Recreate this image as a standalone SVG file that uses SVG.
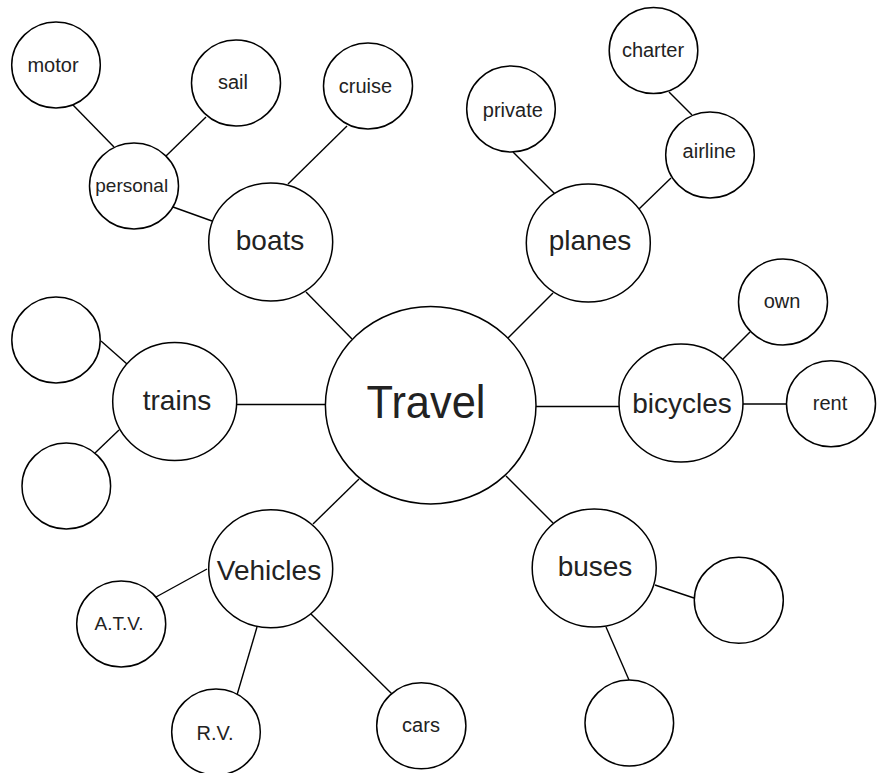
<svg xmlns="http://www.w3.org/2000/svg" width="878" height="773" viewBox="0 0 878 773">
<style>
.n ellipse{fill:#fff;stroke:#000;stroke-width:1.5}
#links line{stroke:#000;stroke-width:1.4}
text{font-family:"Liberation Sans",Arial,sans-serif;fill:#222;text-anchor:middle}
.s{font-size:20px}
.m{font-size:28px}
.l{font-size:47px}
</style>
<rect width="878" height="773" fill="#fff"/>
<g id="links">
<line x1="73" y1="105" x2="114" y2="147"/>
<line x1="206" y1="117" x2="166" y2="156"/>
<line x1="347" y1="126" x2="288" y2="184"/>
<line x1="173" y1="207" x2="212" y2="221"/>
<line x1="306" y1="292" x2="352" y2="339"/>
<line x1="669" y1="92" x2="692" y2="115"/>
<line x1="513" y1="152" x2="555" y2="194"/>
<line x1="671" y1="178" x2="639" y2="209"/>
<line x1="553" y1="293" x2="508" y2="338"/>
<line x1="101" y1="341" x2="127" y2="364"/>
<line x1="95" y1="453" x2="119" y2="430"/>
<line x1="237" y1="404.5" x2="326" y2="404.5"/>
<line x1="536" y1="406.5" x2="619" y2="406.5"/>
<line x1="743" y1="404" x2="787" y2="404"/>
<line x1="750" y1="332" x2="723" y2="359"/>
<line x1="359" y1="479" x2="313" y2="524"/>
<line x1="506" y1="476" x2="553" y2="523"/>
<line x1="207" y1="569" x2="156" y2="597"/>
<line x1="257" y1="627" x2="237" y2="695"/>
<line x1="311" y1="614" x2="392" y2="694"/>
<line x1="655" y1="585" x2="694" y2="598"/>
<line x1="606" y1="627" x2="629" y2="680"/>
</g>
<g id="travel" class="n"><ellipse cx="430.7" cy="405.3" rx="105.3" ry="98.7"/><text class="l" x="426" y="418" textLength="119" lengthAdjust="spacingAndGlyphs">Travel</text></g>
<g id="boats" class="n"><ellipse cx="270.7" cy="242" rx="62" ry="59"/><text class="m" x="270" y="250">boats</text></g>
<g id="planes" class="n"><ellipse cx="588.3" cy="243" rx="62" ry="59"/><text class="m" x="590" y="250">planes</text></g>
<g id="trains" class="n"><ellipse cx="174.7" cy="401.5" rx="62" ry="59"/><text class="m" x="177" y="410">trains</text></g>
<g id="bicycles" class="n"><ellipse cx="681" cy="403" rx="62" ry="59"/><text class="m" x="682" y="413">bicycles</text></g>
<g id="vehicles" class="n"><ellipse cx="270.7" cy="568.7" rx="62" ry="59"/><text class="m" x="269" y="580">Vehicles</text></g>
<g id="buses" class="n"><ellipse cx="594.2" cy="568" rx="62" ry="59"/><text class="m" x="595" y="576">buses</text></g>
<g id="motor" class="n"><ellipse cx="56" cy="65" rx="44.3" ry="43"/><text class="s" x="53" y="72">motor</text></g>
<g id="sail" class="n"><ellipse cx="236" cy="83" rx="44.5" ry="43"/><text class="s" x="233" y="89">sail</text></g>
<g id="cruise" class="n"><ellipse cx="368" cy="86" rx="44.5" ry="43"/><text class="s" x="365.5" y="93">cruise</text></g>
<g id="personal" class="n"><ellipse cx="134" cy="186" rx="44.5" ry="43"/><text class="s" x="131.7" y="192" style="font-size:19px">personal</text></g>
<g id="charter" class="n"><ellipse cx="653.5" cy="50.5" rx="44.3" ry="43"/><text class="s" x="653" y="57">charter</text></g>
<g id="private" class="n"><ellipse cx="511" cy="109" rx="44.3" ry="43"/><text class="s" x="512.8" y="117">private</text></g>
<g id="airline" class="n"><ellipse cx="710" cy="155" rx="44.3" ry="43"/><text class="s" x="709.3" y="158">airline</text></g>
<g id="own" class="n"><ellipse cx="783" cy="302" rx="44.5" ry="43"/><text class="s" x="782" y="308">own</text></g>
<g id="rent" class="n"><ellipse cx="831" cy="403.7" rx="44.5" ry="43"/><text class="s" x="830" y="410">rent</text></g>
<g id="trains-a" class="n"><ellipse cx="56" cy="340" rx="44.2" ry="43"/></g>
<g id="trains-b" class="n"><ellipse cx="66.3" cy="486" rx="44.3" ry="43"/></g>
<g id="atv" class="n"><ellipse cx="121.2" cy="624" rx="44.5" ry="43"/><text class="s" x="119" y="630" style="font-size:19px">A.T.V.</text></g>
<g id="rv" class="n"><ellipse cx="216" cy="732" rx="44.3" ry="43"/><text class="s" x="215" y="740">R.V.</text></g>
<g id="cars" class="n"><ellipse cx="421.3" cy="725.8" rx="44.6" ry="43"/><text class="s" x="421" y="732">cars</text></g>
<g id="buses-a" class="n"><ellipse cx="738.8" cy="600.3" rx="44.5" ry="43"/></g>
<g id="buses-b" class="n"><ellipse cx="629.3" cy="723" rx="44.3" ry="43"/></g>
</svg>
